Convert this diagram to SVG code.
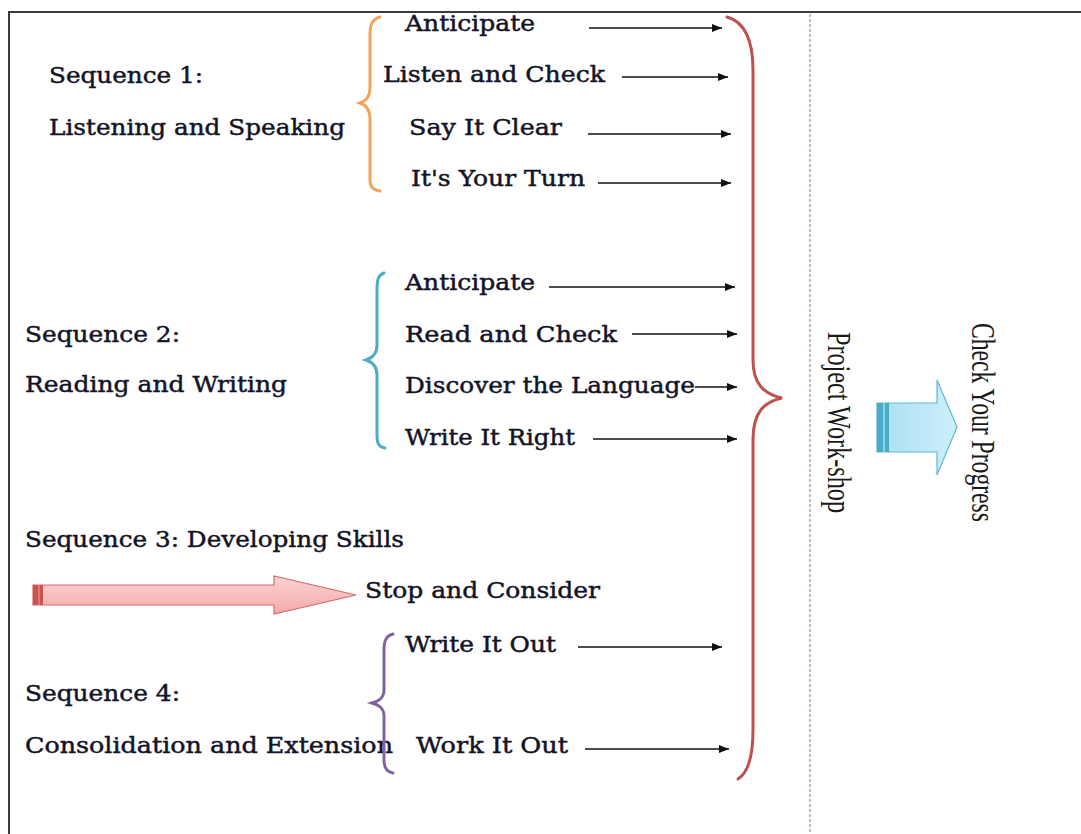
<svg xmlns="http://www.w3.org/2000/svg" width="1081" height="834" viewBox="0 0 1081 834">
  <style>
    .t { font-family: "DejaVu Serif", "Liberation Serif", serif; font-size: 21.5px; fill: #141428; stroke: #141428; stroke-width: 0.45; }
    .v { font-family: "Liberation Serif", "Times New Roman", serif; font-size: 23px; fill: #1a1a1a; }
    .brace { fill: none; stroke-width: 3; stroke-linecap: round; }
    .conn { stroke: #111; stroke-width: 1.6; fill: none; marker-end: url(#ah); }
  </style>
  <defs>
    <marker id="ah" viewBox="0 0 10 8" refX="10" refY="4" markerWidth="11" markerHeight="8" markerUnits="userSpaceOnUse" orient="auto">
      <path d="M0,0 L10,4 L0,8 Z" fill="#111"/>
    </marker>
    <linearGradient id="pinkFill" x1="0" y1="0" x2="0" y2="1">
      <stop offset="0" stop-color="#fbd3d3"/>
      <stop offset="1" stop-color="#f5a9a9"/>
    </linearGradient>
    <linearGradient id="blueFill" x1="0" y1="0" x2="1" y2="0">
      <stop offset="0" stop-color="#a8e0f3"/>
      <stop offset="1" stop-color="#cdeffa"/>
    </linearGradient>
  </defs>

  <rect width="1081" height="834" fill="#fff"/>

  <!-- frame -->
  <g id="frame" stroke="#3a3a3a" stroke-width="2" fill="none">
    <line x1="8" y1="12" x2="1081" y2="12"/>
    <line x1="9" y1="12" x2="9" y2="834"/>
  </g>
  <line id="divider" x1="810" y1="14" x2="810" y2="834" stroke="#9fb4cc" stroke-width="1.6" stroke-dasharray="3,2"/>

  <!-- sequence 1 -->
  <g id="seq1">
    <text class="t" x="49" y="83" textLength="154" lengthAdjust="spacingAndGlyphs">Sequence 1:</text>
    <text class="t" x="49" y="135" textLength="296" lengthAdjust="spacingAndGlyphs">Listening and Speaking</text>
    <path class="brace" stroke="#f2a45a" d="M380,17 C372,19 370,25 370,35 L370,88 C370,97 366,101 360,103 C366,105 370,109 370,118 L370,180 C370,188 374,190 380,191"/>
  </g>
  <g id="s1-anticipate"><text class="t" x="405" y="31" textLength="130" lengthAdjust="spacingAndGlyphs">Anticipate</text></g>
  <g id="s1-listen"><text class="t" x="383" y="82" textLength="222" lengthAdjust="spacingAndGlyphs">Listen and Check</text></g>
  <g id="s1-say"><text class="t" x="409" y="135" textLength="153" lengthAdjust="spacingAndGlyphs">Say It Clear</text></g>
  <g id="s1-turn"><text class="t" x="411" y="186" textLength="174" lengthAdjust="spacingAndGlyphs">It's Your Turn</text></g>

  <!-- sequence 2 -->
  <g id="seq2">
    <text class="t" x="25" y="342" textLength="155" lengthAdjust="spacingAndGlyphs">Sequence 2:</text>
    <text class="t" x="25" y="392" textLength="262" lengthAdjust="spacingAndGlyphs">Reading and Writing</text>
    <path class="brace" stroke="#4bacc6" d="M384,273 C378,275 377,280 377,290 L377,345 C377,354 372,358 366,360 C372,362 377,366 377,375 L377,435 C377,444 379,447 385,448"/>
  </g>
  <g id="s2-anticipate"><text class="t" x="405" y="290" textLength="130" lengthAdjust="spacingAndGlyphs">Anticipate</text></g>
  <g id="s2-read"><text class="t" x="405" y="342" textLength="212" lengthAdjust="spacingAndGlyphs">Read and Check</text></g>
  <g id="s2-discover"><text class="t" x="405" y="393" textLength="290" lengthAdjust="spacingAndGlyphs">Discover the Language</text></g>
  <g id="s2-write"><text class="t" x="405" y="445" textLength="170" lengthAdjust="spacingAndGlyphs">Write It Right</text></g>

  <!-- sequence 3 -->
  <g id="seq3">
    <text class="t" x="25" y="547" textLength="379" lengthAdjust="spacingAndGlyphs">Sequence 3: Developing Skills</text>
    <path d="M33,585 L274,585 L274,576 L356,595 L274,614 L274,605 L33,605 Z" fill="url(#pinkFill)" stroke="#d46a6a" stroke-width="1.2"/>
    <rect x="33" y="585" width="10" height="20" fill="#c9534f"/>
    <line x1="39" y1="585" x2="39" y2="605" stroke="#e99" stroke-width="1"/>
  </g>
  <g id="s3-stop"><text class="t" x="365" y="598" textLength="235" lengthAdjust="spacingAndGlyphs">Stop and Consider</text></g>

  <!-- sequence 4 -->
  <g id="seq4">
    <text class="t" x="25" y="701" textLength="155" lengthAdjust="spacingAndGlyphs">Sequence 4:</text>
    <text class="t" x="25" y="753" textLength="368" lengthAdjust="spacingAndGlyphs">Consolidation and Extension</text>
    <path class="brace" stroke="#8064a2" d="M393,634 C386,636 384,641 384,650 L384,690 C384,698 379,701 372,703 C379,705 384,708 384,716 L384,760 C384,768 387,772 393,773"/>
  </g>
  <g id="s4-write"><text class="t" x="405" y="652" textLength="151" lengthAdjust="spacingAndGlyphs">Write It Out</text></g>
  <g id="s4-work"><text class="t" x="416" y="753" textLength="152" lengthAdjust="spacingAndGlyphs">Work It Out</text></g>

  <!-- big closing brace gathering every step -->
  <g id="all-steps">
    <path class="brace" stroke="#c0504d" d="M727,17 C745,22 753,40 753,70 L753,360 C753,384 764,394 782,398 C764,402 753,412 753,440 L753,730 C753,760 746,774 738,779"/>
  </g>

  <!-- project work-shop and progress -->
  <g id="project">
    <text class="v" transform="translate(828,332) scale(1.45,1) rotate(90)" textLength="181" lengthAdjust="spacingAndGlyphs">Project  Work-shop</text>
  </g>
  <g id="to-progress">
    <path d="M877,403 L937,403 L937,380 L957,427 L937,475 L937,452 L877,452 Z" fill="url(#blueFill)" stroke="#62b8d4" stroke-width="1.2"/>
    <rect x="877" y="403" width="12" height="49" fill="#4bacc6"/>
    <line x1="884" y1="403" x2="884" y2="452" stroke="#bfe9f8" stroke-width="1.2"/>
  </g>
  <g id="progress">
    <text class="v" transform="translate(972,323) scale(1.45,1) rotate(90)" textLength="199" lengthAdjust="spacingAndGlyphs">Check Your Progress</text>
  </g>

  <!-- connectors -->
  <g id="connectors">
    <line class="conn" x1="589" y1="28" x2="722" y2="28"/>
    <line class="conn" x1="622" y1="77" x2="728" y2="77"/>
    <line class="conn" x1="588" y1="134" x2="731" y2="134"/>
    <line class="conn" x1="598" y1="183" x2="731" y2="183"/>
    <line class="conn" x1="549" y1="287" x2="735" y2="287"/>
    <line class="conn" x1="632" y1="334" x2="737" y2="334"/>
    <line class="conn" x1="695" y1="387" x2="737" y2="387"/>
    <line class="conn" x1="593" y1="439" x2="737" y2="439"/>
    <line class="conn" x1="578" y1="647" x2="722" y2="647"/>
    <line class="conn" x1="585" y1="749" x2="729" y2="749"/>
  </g>
</svg>
